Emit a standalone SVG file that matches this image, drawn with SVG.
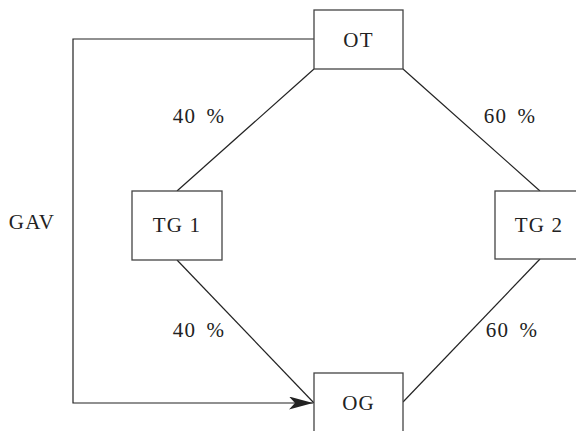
<svg xmlns="http://www.w3.org/2000/svg" width="576" height="431" viewBox="0 0 576 431">
<style>
.box{fill:#fff;stroke:#444;stroke-width:1.3}
.ln{fill:none;stroke:#222;stroke-width:1.2}
text{font-family:"Liberation Serif","DejaVu Serif",serif;font-size:21px;fill:#222;letter-spacing:1.2px}
.c{text-anchor:middle}
.p{word-spacing:4px}
</style>
<defs>
<marker id="arr" markerWidth="24" markerHeight="13" refX="24" refY="6.5" orient="auto" markerUnits="userSpaceOnUse">
<path d="M0,0 L24,6.5 L0,13 L6,6.5 Z" fill="#222"/>
</marker>
</defs>
<g id="connectors">
<path class="ln" d="M314,39 H73 V403 H313" marker-end="url(#arr)"/>
<line class="ln" x1="314" y1="69" x2="177" y2="191"/>
<line class="ln" x1="403" y1="69" x2="540" y2="191"/>
<line class="ln" x1="177" y1="260" x2="314" y2="403"/>
<line class="ln" x1="540" y1="259" x2="403" y2="402"/>
<text x="199" y="123" class="c p">40 %</text>
<text x="510" y="123" class="c p">60 %</text>
<text x="199" y="337" class="c p">40 %</text>
<text x="512" y="337" class="c p">60 %</text>
<text x="32" y="229" class="c">GAV</text>
</g>
<g id="OT"><rect class="box" x="314" y="10" width="89" height="59"/><text x="358.5" y="47" class="c">OT</text></g>
<g id="TG1"><rect class="box" x="132" y="191" width="90" height="69"/><text x="177" y="232" class="c">TG 1</text></g>
<g id="TG2"><rect class="box" x="495" y="191" width="90" height="68"/><text x="539" y="232" class="c">TG 2</text></g>
<g id="OG"><rect class="box" x="314" y="373" width="89" height="70"/><text x="358.5" y="410" class="c">OG</text></g>
</svg>
